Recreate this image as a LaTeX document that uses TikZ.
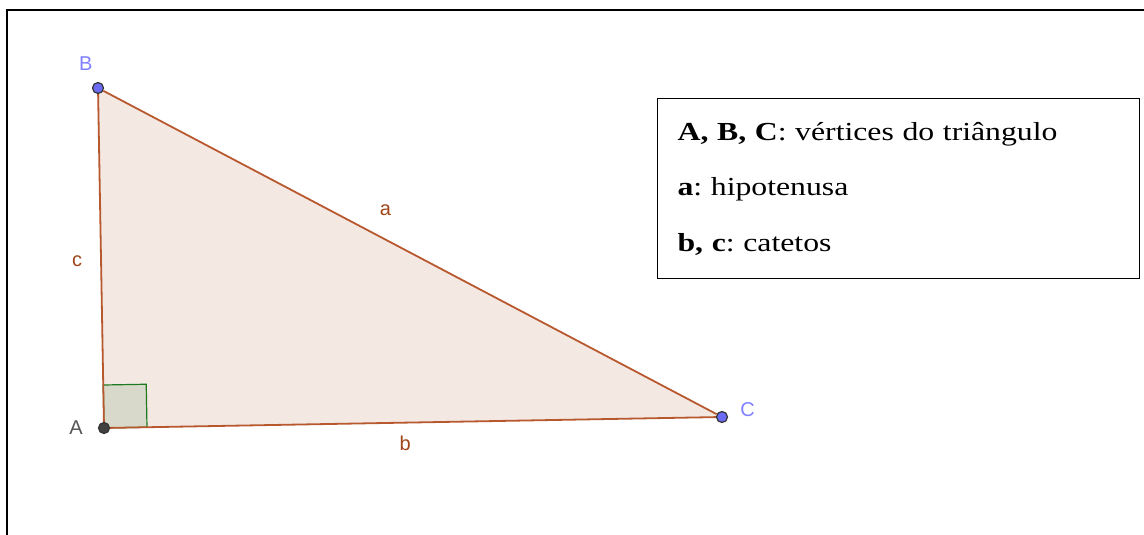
\documentclass[tikz,border=0pt]{standalone}
\usepackage{fontspec}
\setmainfont{Liberation Serif}
\newfontfamily\ggsans{Liberation Sans}
\newfontfamily\keyfont[FakeStretch=1.22]{Liberation Serif}
\usetikzlibrary{positioning,calc,backgrounds}
\definecolor{triedge}{HTML}{B8582E}
\definecolor{trifill}{HTML}{F4E8E3}
\definecolor{ptblue}{HTML}{6B6BF5}
\definecolor{labblue}{HTML}{8080FF}
\definecolor{labgray}{HTML}{555555}
\definecolor{sidebrown}{HTML}{A0441A}
\definecolor{rtgreen}{HTML}{1E7A1E}
\definecolor{rtfill}{HTML}{D8D9CB}
\frenchspacing

\begin{document}
\begin{tikzpicture}[x=1pt,y=-1pt,
  vert/.style={circle,draw=black!80,line width=1.2pt,inner sep=0pt,minimum size=11pt},
  vlab/.style={font=\ggsans\fontsize{20}{20}\selectfont,inner sep=0pt},
  elab/.style={font=\ggsans\fontsize{20}{20}\selectfont,text=sidebrown,inner sep=0pt},
  side/.style={draw=triedge,line width=1.8pt},
  rtsq/.style={draw=rtgreen,fill=rtfill,line width=1.2pt},
  legend/.style={draw,line width=1.2pt,minimum width=482pt,minimum height=180pt,
    text width=442pt,inner xsep=20pt,align=left,font=\keyfont\fontsize{26}{55.5}\selectfont}]
  \useasboundingbox (0,0) rectangle (1144,535);
  \draw[line width=2.4pt] (1144,10) -- (7,10) -- (7,535);
  \node[vert,fill=black!75] (A) at (104,428) {};
  \node[vert,fill=ptblue] (B) at (98,88) {};
  \node[vert,fill=ptblue] (C) at (722,417) {};
  \node[vlab,text=labgray,left=15pt of A] (labA) {A};
  \node[vlab,text=labblue,above left=13pt and 1pt of B] (labB) {B};
  \node[vlab,text=labblue,right=12pt of C,yshift=7pt] (labC) {C};
  \begin{scope}[on background layer]
    \fill[trifill] (A.center) -- (B.center) -- (C.center) -- cycle;
    \coordinate (Ab) at ($(A.center)!43pt!(B.center)$);
    \coordinate (Ac) at ($(A.center)!43pt!(C.center)$);
    \filldraw[rtsq] (A.center) -- (Ab) -- ($(Ab)+(Ac)-(A.center)$) -- (Ac) -- cycle;
    \draw[side] (B) -- node[elab,pos=0.46,above=23pt] (la) {a} (C);
    \draw[side] (A) -- node[elab,pos=0.487,below=12pt] (lb) {b} (C);
    \draw[side] (A) -- node[elab,pos=0.49,left=18pt] (lc) {c} (B);
  \end{scope}
  \node[legend,anchor=north west] (key) at (657,98)
    {\textbf{A, B, C}: vértices do triângulo\\
     \textbf{a}: hipotenusa\\
     \textbf{b, c}: catetos};
\end{tikzpicture}
\end{document}
